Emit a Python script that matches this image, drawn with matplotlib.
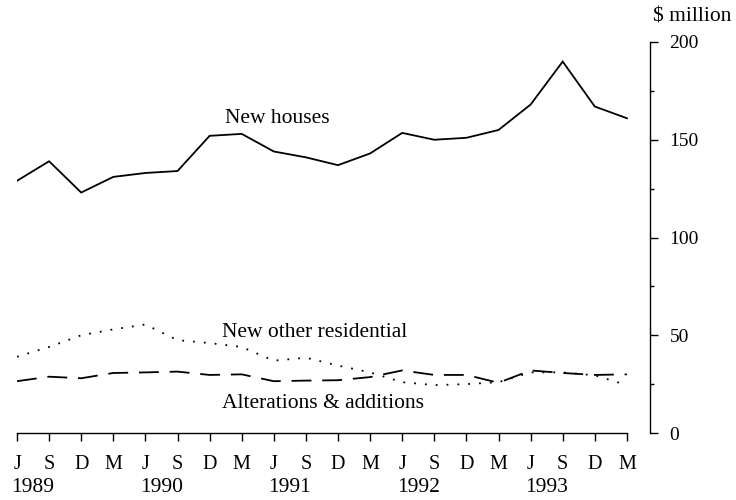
import matplotlib
matplotlib.use("Agg")
import matplotlib.pyplot as plt
from matplotlib.ticker import MultipleLocator

plt.rcParams['font.family'] = ['Liberation Serif', 'DejaVu Serif']

quarters = ['J', 'S', 'D', 'M'] * 5
years = ['1989', '1990', '1991', '1992', '1993']
new_houses = [129, 139, 123, 131, 133, 134, 152, 153, 144, 141, 137, 143,
              153.5, 150, 151, 155, 168, 190, 167, 161]
new_other = [39, 44, 50, 53, 55.5, 47.5, 46, 44, 37, 38.5, 34.5, 31,
             26, 24.5, 25, 26, 31, 31, 29.5, 24.5]
alterations = [26.5, 28.8, 28, 30.7, 31, 31.4, 29.7, 30, 26.5, 26.8, 27, 28.6,
               32, 29.7, 29.7, 25.7, 32, 30.7, 29.7, 30]

fig = plt.figure(figsize=(7.36, 5.0), dpi=100)
ax = fig.add_axes([17/736, 1 - 433/500, (650 - 17)/736, (433 - 42)/500])

x = list(range(len(quarters)))
ax.plot(x, new_houses, color='black', lw=1.3, solid_joinstyle='miter')
ax.plot(x, new_other, color='black', lw=1.3, linestyle=(0, (1, 5)))
ax.plot(x, alterations, color='black', lw=1.3, linestyle=(0, (11, 6)))

span = (650 - 17) / 32.1
ax.set_xlim(0, span)
ax.set_ylim(0, 200)

for s in ['left', 'top']:
    ax.spines[s].set_visible(False)
ax.spines['bottom'].set_bounds(0, 19)
ax.spines['right'].set_bounds(0, 200)
ax.spines['bottom'].set_linewidth(1.0)
ax.spines['right'].set_linewidth(1.0)

ax.set_xticks(x)
ax.set_xticklabels(quarters)
ax.tick_params(axis='x', direction='out', length=6, width=1.0, pad=10, labelsize=14.5)

ax.yaxis.tick_right()
ax.yaxis.set_major_locator(MultipleLocator(50))
ax.yaxis.set_minor_locator(MultipleLocator(25))
ax.tick_params(axis='y', which='major', direction='out', length=6, width=1.0, pad=8, labelsize=14)
ax.tick_params(axis='y', which='minor', direction='out', length=3, width=1.0)

for i, yr in enumerate(years):
    ax.annotate(yr, xy=(i * 4 + 0.5, 0), xycoords=('data', 'axes fraction'),
                xytext=(0, -39), textcoords='offset points',
                ha='center', va='center', fontsize=15.5)

ax.text(8.1, 161, 'New houses', ha='center', va='center', fontsize=15.5)
ax.text(6.39, 51.5, 'New other residential', ha='left', va='center', fontsize=15.5)
ax.text(6.39, 15, 'Alterations & additions', ha='left', va='center', fontsize=15.5)

fig.text(653/736, 1 - 17/500, '$ million', ha='left', va='center', fontsize=15.5)

fig.savefig('out.png', dpi=100)
